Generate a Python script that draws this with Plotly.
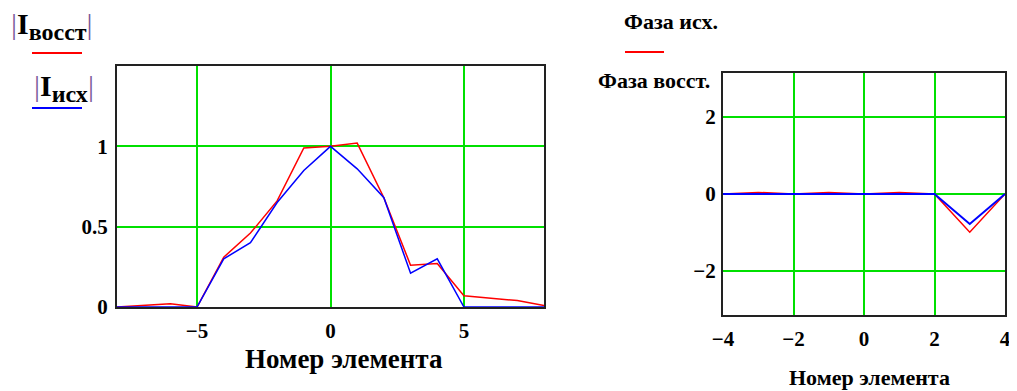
import plotly.graph_objects as go

W, H = 1017, 391
OFF = 8  # default body margin of the html page

# left chart: |I| vs element number
elem_left = [-8, -7, -6, -5, -4, -3, -2, -1, 0, 1, 2, 3, 4, 5, 6, 7, 8]
i_vosst = [0, 0.01, 0.02, 0, 0.31, 0.46, 0.66, 0.99, 1.0, 1.02, 0.68, 0.26, 0.27, 0.07, 0.055, 0.04, 0.01]
i_ish = [0, 0, 0, 0, 0.30, 0.40, 0.65, 0.85, 1.0, 0.86, 0.68, 0.21, 0.30, 0, 0, 0, 0]

# right chart: phase vs element number
elem_right = [-4, -3, -2, -1, 0, 1, 2, 3, 4]
faza_ish = [0, 0.04, 0, 0.04, 0, 0.04, 0, -0.99, 0]
faza_vosst = [0, 0, 0, 0, 0, 0, 0, -0.78, 0]

left_xticks = [-5, 0, 5]
left_yticks = [0, 0.5, 1]
right_xticks = [-4, -2, 0, 2, 4]
right_yticks = [-2, 0, 2]

serif = "Liberation Serif"
green = "#00e000"


def px(x):
    return (x - OFF) / W


def py(y):
    return 1 - (y - OFF) / H


fig = go.Figure()
fig.add_trace(go.Scatter(x=elem_left, y=i_vosst, mode="lines",
                         line=dict(color="#ff0000", width=1.5), xaxis="x", yaxis="y"))
fig.add_trace(go.Scatter(x=elem_left, y=i_ish, mode="lines",
                         line=dict(color="#0000ff", width=1.5), xaxis="x", yaxis="y"))
fig.add_trace(go.Scatter(x=elem_right, y=faza_ish, mode="lines",
                         line=dict(color="#ff0000", width=1.5), xaxis="x2", yaxis="y2"))
fig.add_trace(go.Scatter(x=elem_right, y=faza_vosst, mode="lines",
                         line=dict(color="#0000ff", width=2), xaxis="x2", yaxis="y2"))

axis_common = dict(showline=True, mirror=True, linecolor="#222222", linewidth=2,
                   showgrid=True, gridcolor=green, gridwidth=1.5, zeroline=False,
                   automargin=False, ticks="",
                   tickfont=dict(family=serif, size=21, color="black", weight="bold"))

fig.update_layout(
    width=W, height=H,
    margin=dict(l=0, r=0, t=0, b=0, autoexpand=False),
    paper_bgcolor="white", plot_bgcolor="white",
    showlegend=False,
    xaxis=dict(axis_common, domain=[px(117), px(544)], range=[-8, 8],
               tickvals=left_xticks, ticklabelstandoff=4, anchor="y"),
    yaxis=dict(axis_common, domain=[py(307), py(66)], range=[0, 1.5],
               tickvals=left_yticks, ticklabelstandoff=3, anchor="x"),
    xaxis2=dict(axis_common, domain=[px(723), px(1005)], range=[-4, 4],
                tickvals=right_xticks, ticklabelstandoff=4, anchor="y2"),
    yaxis2=dict(axis_common, domain=[py(315), py(73)], range=[-3.14, 3.14],
                tickvals=right_yticks, ticklabelstandoff=1, anchor="x2"),
)

bar = "<span style='color:#7a5a9a;font-weight:normal'>|</span>"
notes = [
    (344, 359, "Номер элемента", 27, "center"),
    (869, 377, "Номер элемента", 22, "center"),
    (9, 26, bar + "I<sub><span style='font-size:24px'>восст</span></sub>" + bar, 30, "left"),
    (32, 88, bar + "I<sub><span style='font-size:24px'>исх</span></sub>" + bar, 30, "left"),
    (622, 22, "Фаза исх.", 22, "left"),
    (596, 80, "Фаза восст.", 22, "left"),
]
for x, y, text, size, anchor in notes:
    fig.add_annotation(x=px(x), y=py(y), xref="paper", yref="paper", text=text,
                       showarrow=False, xanchor=anchor, yanchor="middle",
                       font=dict(family=serif, size=size, color="black", weight="bold"))

for x0, x1, y, color in [(32, 82, 53, "#ff0000"), (32, 82, 108, "#0000ff"), (625, 664, 52, "#ff0000")]:
    fig.add_shape(type="line", xref="paper", yref="paper",
                  x0=px(x0), x1=px(x1), y0=py(y), y1=py(y),
                  line=dict(color=color, width=2))

fig.write_html("out.html")
